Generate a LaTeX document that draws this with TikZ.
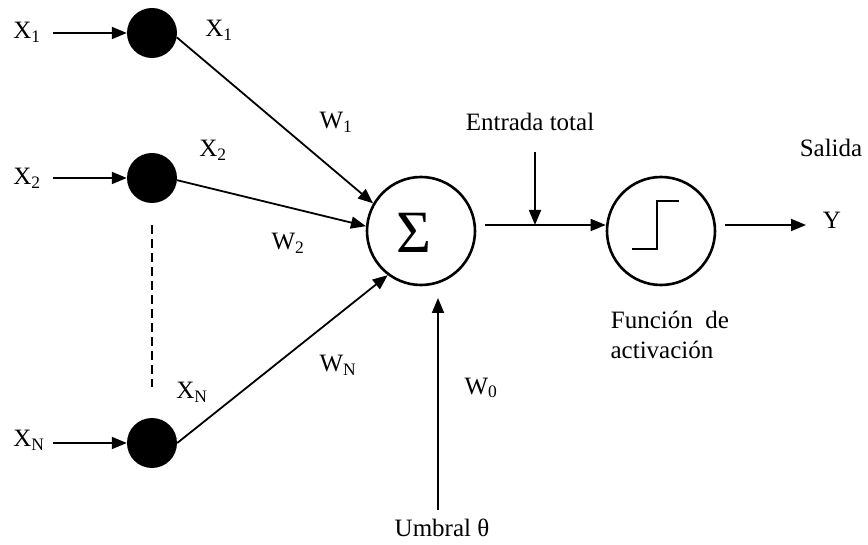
\documentclass[tikz,border=0pt]{standalone}
\usepackage{fontspec}
\setmainfont{Liberation Serif}
\usetikzlibrary{arrows.meta}
\begin{document}
\begin{tikzpicture}[x=1pt,y=-1pt,
  every node/.style={font=\fontsize{25}{30}\selectfont, inner sep=0pt},
  dot/.style={circle, fill=black, minimum size=50pt, inner sep=0pt},
  unit/.style={circle, draw=black, line width=2.6pt, minimum size=108pt, inner sep=0pt},
  conn/.style={line width=1.8pt},
  arr/.style={conn, -{Triangle[length=15pt,width=12pt]}}]
\useasboundingbox (0,0) rectangle (868,545);

% input neurons
\node[dot] (n1) at (152,33) {};
\node[dot] (n2) at (152,178) {};
\node[dot] (nN) at (152,443) {};

% input labels
\node (x1) at (27,32) {X\textsubscript{1}};
\node (x2) at (27,178) {X\textsubscript{2}};
\node (xN) at (29,440) {X\textsubscript{N}};
\coordinate (i1) at (53,33);
\coordinate (i2) at (53,178);
\coordinate (iN) at (53,443);
\draw[arr] (i1) -- (n1);
\draw[arr] (i2) -- (n2);
\draw[arr] (iN) -- (nN);

% dashed continuation between inputs
\coordinate (d1) at (152,225);
\coordinate (d2) at (152,387);
\draw[line width=2.6pt, dash pattern=on 9pt off 5pt] (d1) -- (d2);

% labels of the neuron outputs
\node (ox1) at (219,30) {X\textsubscript{1}};
\node (ox2) at (213,150) {X\textsubscript{2}};
\node (oxN) at (192,392) {X\textsubscript{N}};

% summation unit
\node[unit] (sum) at (421,231) {};
\node (sigma) at (414,233) {\fontsize{60}{60}\selectfont Σ};

\draw[arr] (n1.-10) -- (sum.150);
\draw[arr] (n2.-5) -- (sum.175);
\draw[arr] (nN.east) -- (sum.233);

% weights
\node (w1) at (336,122) {W\textsubscript{1}};
\node (w2) at (288,243) {W\textsubscript{2}};
\node (wN) at (338,365) {W\textsubscript{N}};
\node (w0) at (481,388) {W\textsubscript{0}};

% threshold input
\node (umbral) at (442,528) {Umbral θ};
\coordinate (u0) at (438,510);
\coordinate (u1) at (438,298);
\draw[arr] (u0) -- (u1);

% activation unit
\node[unit] (act) at (661,231) {};
\coordinate (st1) at (632,249);
\coordinate (st2) at (657,249);
\coordinate (st3) at (657,201);
\coordinate (st4) at (679,201);
\draw[line width=2.6pt] (st1) -- (st2) -- (st3) -- (st4);

% total input
\coordinate (s0) at (485,225);
\draw[arr] (s0) -- (act.west |- s0);
\node (entrada) at (530,122) {Entrada total};
\coordinate (e0) at (535,152);
\draw[arr] (e0) -- (e0 |- s0);

% output
\coordinate (o0) at (725,225);
\coordinate (o1) at (806,225);
\draw[arr] (o0) -- (o1);
\node (y) at (832,220) {Y};
\node (salida) at (831,148) {Salida};
\node (f1) at (670,320) {Función\ \ de};
\node (f2) at (662,350) {activación};
\end{tikzpicture}
\end{document}
